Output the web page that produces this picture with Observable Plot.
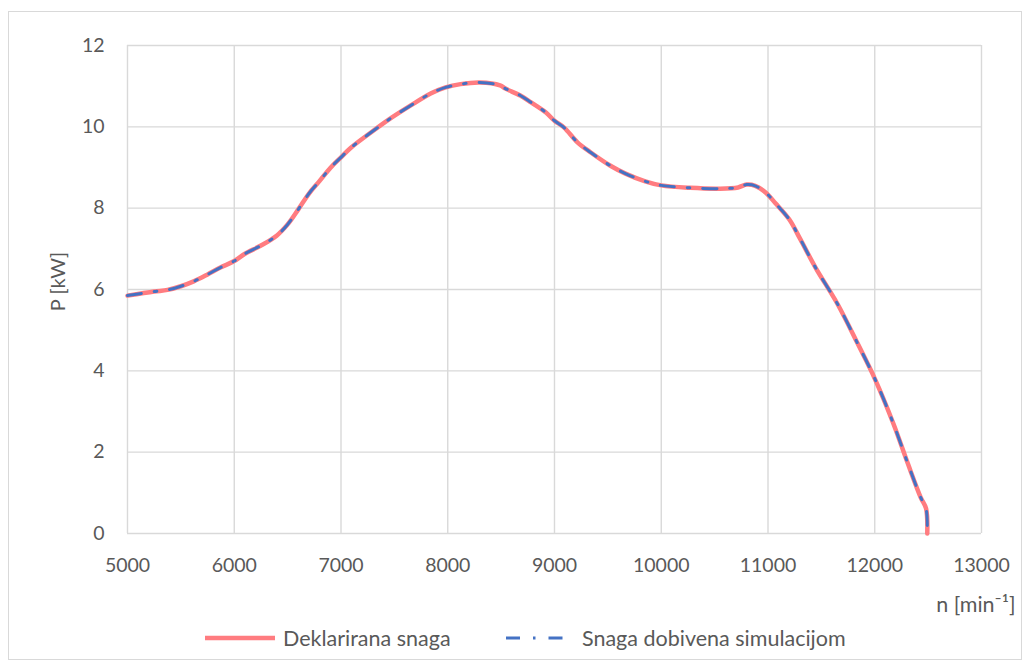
<!DOCTYPE html>
<html>
<head>
<meta charset="utf-8">
<script src="https://cdn.jsdelivr.net/npm/d3@7"></script>
<script src="https://cdn.jsdelivr.net/npm/@observablehq/plot@0.6"></script>
<style>
  body { margin: 0; background: #fff; font-family: Lato, "Open Sans", sans-serif; }
  #wrap { position: relative; width: 1030px; height: 668px; overflow: hidden; }
  #border { position: absolute; left: 8px; top: 11px; width: 1014px; height: 649px; border: 1.5px solid #d9d9d9; box-sizing: border-box; }
  #chart { position: absolute; left: 0; top: 0; }
  #legend { position: absolute; top: 0; left: 0; width: 1030px; height: 668px; font-size: 21.5px; color: #595959; white-space: nowrap; pointer-events: none; }
  #legend .item { position: absolute; top: 624px; height: 28px; display: flex; align-items: center; }
  #legend svg { display: block; }
</style>
</head>
<body>
<div id="wrap">
  <div id="border"></div>
  <div id="chart"></div>
  <div id="legend"></div>
</div>
<script>
// Engine speed n [min^-1]
const rpm = [5000, 5250, 5375, 5500, 5620, 5750, 5870, 6000, 6100, 6250, 6400, 6500, 6600, 6700, 6800, 6900, 7000, 7090, 7280, 7460, 7650, 7840, 7980, 8120, 8300, 8490, 8540, 8680, 8780, 8920, 9000, 9090, 9215, 9340, 9520, 9665, 9850, 10000, 10270, 10550, 10720, 10800, 10880, 10980, 11070, 11200, 11300, 11445, 11650, 11840, 12000, 12175, 12310, 12430, 12480, 12492];
// Declared power P [kW]
const declaredPower = [5.85, 5.95, 5.99, 6.08, 6.2, 6.37, 6.54, 6.7, 6.88, 7.08, 7.33, 7.6, 7.97, 8.36, 8.67, 8.99, 9.25, 9.48, 9.86, 10.2, 10.52, 10.82, 10.97, 11.05, 11.09, 11.02, 10.94, 10.77, 10.6, 10.35, 10.15, 9.98, 9.62, 9.37, 9.05, 8.85, 8.66, 8.56, 8.5, 8.48, 8.51, 8.58, 8.55, 8.38, 8.12, 7.72, 7.25, 6.54, 5.65, 4.67, 3.81, 2.7, 1.72, 0.89, 0.62, 0.0];
// Simulated power P [kW]
const simulatedPower = [5.85, 5.95, 5.99, 6.08, 6.2, 6.37, 6.54, 6.7, 6.88, 7.08, 7.33, 7.6, 7.97, 8.36, 8.67, 8.99, 9.25, 9.48, 9.86, 10.2, 10.52, 10.82, 10.97, 11.05, 11.09, 11.02, 10.94, 10.77, 10.6, 10.35, 10.15, 9.98, 9.62, 9.37, 9.05, 8.85, 8.66, 8.56, 8.5, 8.48, 8.51, 8.58, 8.55, 8.38, 8.12, 7.72, 7.25, 6.54, 5.65, 4.67, 3.81, 2.7, 1.72, 0.89, 0.62, 0.0];

const xTicks = [5000, 6000, 7000, 8000, 9000, 10000, 11000, 12000, 13000];
const yTicks = [0, 2, 4, 6, 8, 10, 12];
const seriesNames = ["Deklarirana snaga", "Snaga dobivena simulacijom"];
const xLabel = "n [min⁻¹]";
const yLabel = "P [kW]";

const rows = rpm.map((n, i) => ({ n, declared: declaredPower[i], simulated: simulatedPower[i] }));

const RED = "#FF7C80";
const BLUE = "#4472C4";
const GRID = "#d9d9d9";
const TEXT = "#595959";
const DASH = "14,13,2.5,13";
const FONT = "Lato, 'Open Sans', sans-serif";

const chart = Plot.plot({
  width: 1030,
  height: 622,
  marginLeft: 127,
  marginRight: 49,
  marginTop: 45,
  marginBottom: 89,
  x: { domain: [5000, 13000] },
  y: { domain: [0, 12] },
  style: { fontFamily: FONT, fontSize: "19.5px", color: TEXT, background: "transparent", overflow: "visible" },
  marks: [
    Plot.gridX(xTicks, { stroke: GRID, strokeOpacity: 1, strokeWidth: 1.4 }),
    Plot.gridY(yTicks, { stroke: GRID, strokeOpacity: 1, strokeWidth: 1.4 }),
    Plot.axisX(xTicks, { tickSize: 0, tickPadding: 25, label: null, tickFormat: d => String(d), fill: TEXT }),
    Plot.axisY(yTicks, { tickSize: 0, tickPadding: 23, label: null, tickFormat: d => String(d), fill: TEXT }),
    Plot.line(rows, { x: "n", y: "declared", stroke: RED, strokeWidth: 4.5, curve: "catmull-rom", strokeLinejoin: "round" }),
    Plot.line(rows, { x: "n", y: "simulated", stroke: BLUE, strokeWidth: 3, curve: "catmull-rom", strokeDasharray: DASH }),
    Plot.text([yLabel], { text: d => d, frameAnchor: "left", rotate: -90, dx: -69, dy: -8, fill: TEXT, textAnchor: "middle", lineAnchor: "middle", fontSize: 20 }),
    Plot.text([xLabel], { text: d => d, frameAnchor: "bottom-right", dx: 34, dy: 72, fill: TEXT, textAnchor: "end", lineAnchor: "middle", fontSize: 21.5 })
  ]
});
document.getElementById("chart").appendChild(chart);

// Legend
const legend = d3.select("#legend");
const item1 = legend.append("div").attr("class", "item").style("left", "205px");
const sw1 = item1.append("svg").attr("width", 70).attr("height", 12);
sw1.append("line").attr("x1", 0).attr("x2", 70).attr("y1", 6).attr("y2", 6).attr("stroke", RED).attr("stroke-width", 4.5);
item1.append("span").style("margin-left", "8px").text(seriesNames[0]);
const item2 = legend.append("div").attr("class", "item").style("left", "506px");
const sw2 = item2.append("svg").attr("width", 60).attr("height", 12);
sw2.append("line").attr("x1", 0).attr("x2", 60).attr("y1", 6).attr("y2", 6).attr("stroke", BLUE).attr("stroke-width", 3).attr("stroke-dasharray", DASH);
item2.append("span").style("margin-left", "16px").text(seriesNames[1]);
</script>
</body>
</html>
